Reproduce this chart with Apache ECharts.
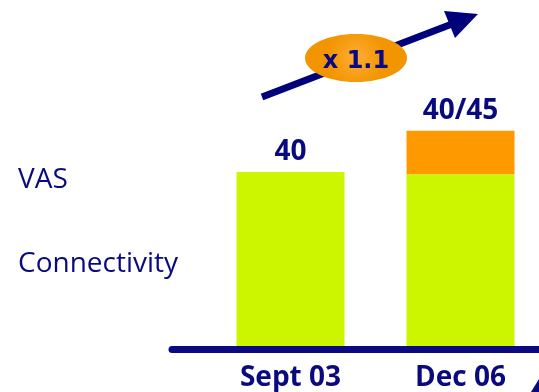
<!DOCTYPE html>
<html><head><meta charset="utf-8">
<script src="https://cdn.jsdelivr.net/npm/echarts@6/dist/echarts.min.js"></script>
<style>html,body{margin:0;padding:0;background:#fff}#c{width:539px;height:392px}</style>
</head><body><div id="c"></div>
<script>
const categories = ['Sept 03', 'Dec 06'];
const connectivity = [40, 39.5];
const vas = [0, 10];
const totalLabels = ['40', '40/45'];
const rowLabels = ['VAS', 'Connectivity'];
const growthLabel = 'x 1.1';

const NAVY = '#0a0a80';
const chart = echarts.init(document.getElementById('c'));
chart.setOption({
  animation: false,
  grid: [
    {left: 290.5, width: 170, bottom: 43, top: 85},
    {left: 172, right: 0, bottom: 43, height: 10}
  ],
  xAxis: [
    {type: 'category', data: categories, gridIndex: 0, boundaryGap: false,
     axisLine: {show: false}, axisTick: {show: false},
     axisLabel: {color: NAVY, fontFamily: 'Open Sans', fontWeight: 'bold', fontSize: 28, margin: 18}},
    {type: 'value', gridIndex: 1, z: 10,
     axisLine: {show: true, lineStyle: {color: NAVY, width: 7}},
     axisTick: {show: false}, axisLabel: {show: false}, splitLine: {show: false}}
  ],
  yAxis: [
    {type: 'value', gridIndex: 0, min: 0, max: 60, show: false},
    {type: 'value', gridIndex: 1, show: false}
  ],
  series: [
    {type: 'bar', stack: 's', data: connectivity, barWidth: 108, clip: false,
     itemStyle: {color: '#ccf600'},
     label: {show: true, position: 'top', distance: 6, color: NAVY, fontFamily: 'Open Sans', fontWeight: 'bold', fontSize: 28,
       formatter: p => p.dataIndex === 0 ? totalLabels[0] : ''}},
    {type: 'bar', stack: 's', data: vas, barWidth: 108, clip: false,
     itemStyle: {color: '#ff9900'},
     label: {show: true, position: 'top', distance: 6, color: NAVY, fontFamily: 'Open Sans', fontWeight: 'bold', fontSize: 28,
       formatter: p => p.dataIndex === 1 ? totalLabels[1] : ''}}
  ],
  graphic: [
    {type: 'text', left: 18, top: 166, style: {text: rowLabels[0], fill: NAVY, font: '28px "Open Sans"'}},
    {type: 'text', left: 18, top: 250, style: {text: rowLabels[1], fill: NAVY, font: '28px "Open Sans"'}},
    {type: 'line', shape: {x1: 262, y1: 97, x2: 452, y2: 24}, style: {stroke: '#00007a', lineWidth: 7}},
    {type: 'polygon', shape: {points: [[444, 11], [478, 14], [455, 38]]}, style: {fill: '#00007a'}},
    {type: 'ellipse', shape: {cx: 356, cy: 58, rx: 51, ry: 24},
     style: {fill: new echarts.graphic.RadialGradient(0.5, 0.5, 0.6, [{offset: 0, color: '#ffad38'}, {offset: 1, color: '#f29500'}])}},
    {type: 'text', x: 356, y: 62, style: {text: growthLabel, fill: NAVY, font: 'bold 24px "DejaVu Sans"', align: 'center', verticalAlign: 'middle'}},
    {type: 'polygon', shape: {points: [[531, 392], [539, 379], [539, 392]]}, style: {fill: '#0a0a80'}}
  ]
});
</script></body></html>
